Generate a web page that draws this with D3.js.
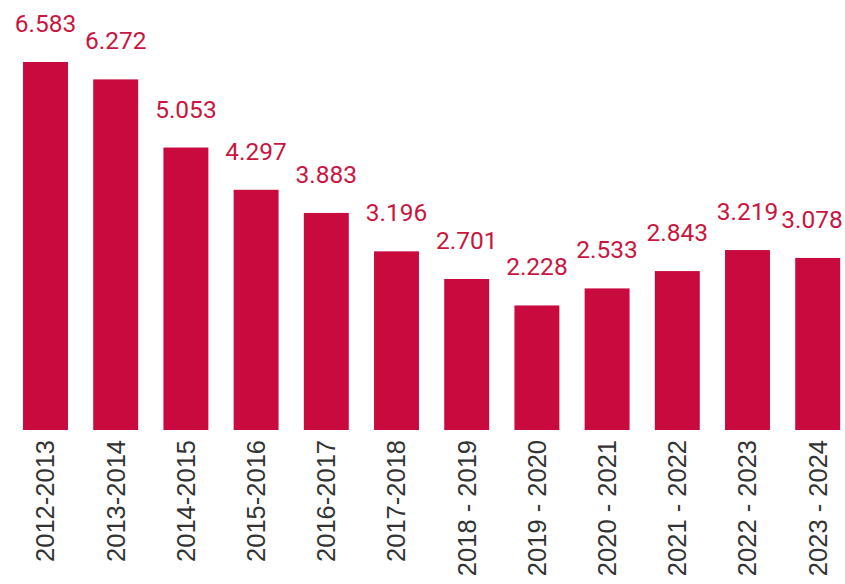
<!DOCTYPE html>
<html>
<head>
<meta charset="utf-8">
<script src="https://cdn.jsdelivr.net/npm/d3@7"></script>
<style>
  body { margin: 0; background: #fff; }
  .domain { display: none; }
</style>
</head>
<body>
<script>
// seasons and values
var seasons = ["2012-2013", "2013-2014", "2014-2015", "2015-2016", "2016-2017", "2017-2018",
  "2018 - 2019", "2019 - 2020", "2020 - 2021", "2021 - 2022", "2022 - 2023", "2023 - 2024"];
var values = [6.583, 6.272, 5.053, 4.297, 3.883, 3.196, 2.701, 2.228, 2.533, 2.843, 3.219, 3.078];
var valueLabels = ["6.583", "6.272", "5.053", "4.297", "3.883", "3.196", "2.701", "2.228", "2.533", "2.843", "3.219", "3.078"];

var data = seasons.map(function(s, i) {
  return { season: s, value: values[i], label: valueLabels[i] };
});

var svgWidth = 845;
var svgHeight = 584;
var baseline = 430;

var svg = d3.select("body")
  .append("svg")
  .attr("width", svgWidth)
  .attr("height", svgHeight);

var x = d3.scaleBand()
  .domain(seasons)
  .range([10.4, 852.8])
  .paddingInner(0.36)
  .paddingOuter(0.18);

var y = d3.scaleLinear()
  .domain([0, 7])
  .range([baseline, 38.7]);

// bars
svg.append("g").selectAll("rect")
  .data(data)
  .enter()
  .append("rect")
  .attr("x", d => x(d.season))
  .attr("y", d => y(d.value))
  .attr("width", x.bandwidth())
  .attr("height", d => baseline - y(d.value))
  .attr("fill", "#c80a3e");

// value labels (keep the last one inside the page)
svg.append("g").selectAll("text")
  .data(data)
  .enter()
  .append("text")
  .attr("x", d => Math.min(x(d.season) + x.bandwidth() / 2, svgWidth - 33))
  .attr("y", d => y(d.value) - 30)
  .attr("text-anchor", "middle")
  .attr("font-family", "Roboto")
  .attr("font-size", "24.5px")
  .attr("fill", "#c8163f")
  .text(d => d.label);

// x axis
var xAxis = svg.append("g")
  .attr("transform", `translate(0,${baseline})`)
  .call(d3.axisBottom(x).tickSize(0));

xAxis.selectAll("text")
  .attr("transform", "rotate(-90)")
  .attr("x", -10)
  .attr("y", 0)
  .attr("dy", "0.35em")
  .attr("text-anchor", "end")
  .attr("font-family", "Liberation Sans, Arial")
  .attr("font-size", "25.5px")
  .attr("fill", "#333");
</script>
</body>
</html>
